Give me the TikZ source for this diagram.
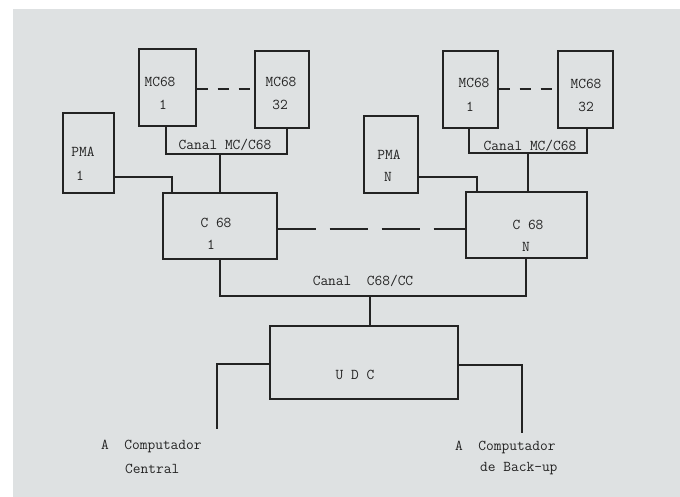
\documentclass[tikz,border=0pt]{standalone}
\usepackage{xcolor}
\usepackage{tikz}
\definecolor{paper}{RGB}{222,225,226}
\definecolor{ink}{RGB}{35,35,35}
\definecolor{typed}{RGB}{35,35,35}

\begin{document}
\begin{tikzpicture}[x=1pt, y=-1pt,
    box/.style={draw=ink, line width=1.3pt, inner sep=0pt},
    wire/.style={draw=ink, line width=1.3pt},
    txt/.style={text=typed, font=\fontsize{15}{17}\selectfont\ttfamily, inner sep=0pt}]
    % paper
    \fill[white] (0,0) rectangle (680,497);
    \fill[paper] (13,9) rectangle (680,497);
    \useasboundingbox (0,0) rectangle (680,497);
    % left group
    \node[box, minimum width=57pt, minimum height=77pt] (mcl1) at (167.5,87.5) {};
    \node[box, minimum width=54pt, minimum height=77pt] (mcl32) at (282,89.5) {};
    \node[box, minimum width=51pt, minimum height=80pt] (pmal) at (88.5,153) {};
    \node[box, minimum width=114pt, minimum height=66pt] (cl) at (220,226) {};
    \node[txt] (tmcl1) at (160,82) {MC68};
    \node[txt] (nmcl1) at (163,105) {1};
    \node[txt] (tmcl32) at (281,82) {MC68};
    \node[txt] (nmcl32) at (280,105) {32};
    \node[txt] (tpmal) at (83,152) {PMA};
    \node[txt] (npmal) at (80,176) {1};
    \node[txt] (tcl) at (216,223) {C 68};
    \node[txt] (ncl) at (211,245) {1};
    \node[txt] (canall) at (225,145) {Canal MC/C68};
    % right group
    \node[box, minimum width=55pt, minimum height=77pt] (mcr1) at (470.5,89.5) {};
    \node[box, minimum width=55pt, minimum height=77pt] (mcr32) at (585.5,89.5) {};
    \node[box, minimum width=54pt, minimum height=77pt] (pmar) at (391,154.5) {};
    \node[box, minimum width=121pt, minimum height=66pt] (cr) at (526.5,225) {};
    \node[txt] (tmcr1) at (474,83) {MC68};
    \node[txt] (nmcr1) at (470,107) {1};
    \node[txt] (tmcr32) at (586,84) {MC68};
    \node[txt] (nmcr32) at (586,107) {32};
    \node[txt] (tpmar) at (389,155) {PMA};
    \node[txt] (npmar) at (388,177) {N};
    \node[txt] (tcr) at (528,225) {C 68};
    \node[txt] (ncr) at (526,247) {N};
    \node[txt] (canalr) at (530,146) {Canal MC/C68};
    % UDC
    \node[box, minimum width=188pt, minimum height=73pt] (udc) at (364,362.5) {};
    \node[txt] (tudc) at (355,375) {U D C};
    \node[txt] (canalc) at (363,281) {Canal\ \ C68/CC};
    \node[txt, anchor=west] (tcentral) at (101,446) {A\ \ Computador};
    \node[txt, anchor=west] (ncentral) at (125,469) {Central};
    \node[txt, anchor=west] (tbackup) at (455,447) {A\ \ Computador};
    \node[txt, anchor=west] (nbackup) at (480,469) {de Back-up};
    % bus points
    \coordinate (busl) at (220,154);
    \coordinate (busr) at (528,153);
    \coordinate (busc) at (370,296);
    \coordinate (ccentral) at (217,429);
    \coordinate (cbackup) at (522,433);
    % connectors
    \draw[wire, dash pattern=on 11pt off 10pt] (mcl1.east |- 0,89) -- (mcl32.west |- 0,89);
    \draw[wire, dash pattern=on 11pt off 10pt] (mcr1.east |- 0,89) -- (mcr32.west |- 0,89);
    \draw[wire] ([xshift=-1.5pt]mcl1.south) |- (busl) -| ([xshift=5pt]mcl32.south);
    \draw[wire] (busl) -- (cl.north);
    \draw[wire] ([xshift=-1.5pt]mcr1.south) |- (busr) -| ([xshift=1.5pt]mcr32.south);
    \draw[wire] (busr) -- (busr |- cr.north);
    \draw[wire] ([yshift=-24pt]pmal.east) -| ([xshift=-48pt]cl.north);
    \draw[wire] ([yshift=-22.5pt]pmar.east) -| ([xshift=-49.5pt]cr.north);
    \draw[wire, dash pattern=on 38pt off 14pt] ([yshift=-3pt]cl.east) -- ([yshift=-4pt]cr.west);
    \draw[wire] (cl.south) |- (busc) -| ([xshift=-0.5pt]cr.south);
    \draw[wire] (busc) -- (busc |- udc.north);
    \draw[wire] ([yshift=-1.5pt]udc.west) -| (ccentral);
    \draw[wire] ([yshift=-2.5pt]udc.east) -| (cbackup);
\end{tikzpicture}
\end{document}
